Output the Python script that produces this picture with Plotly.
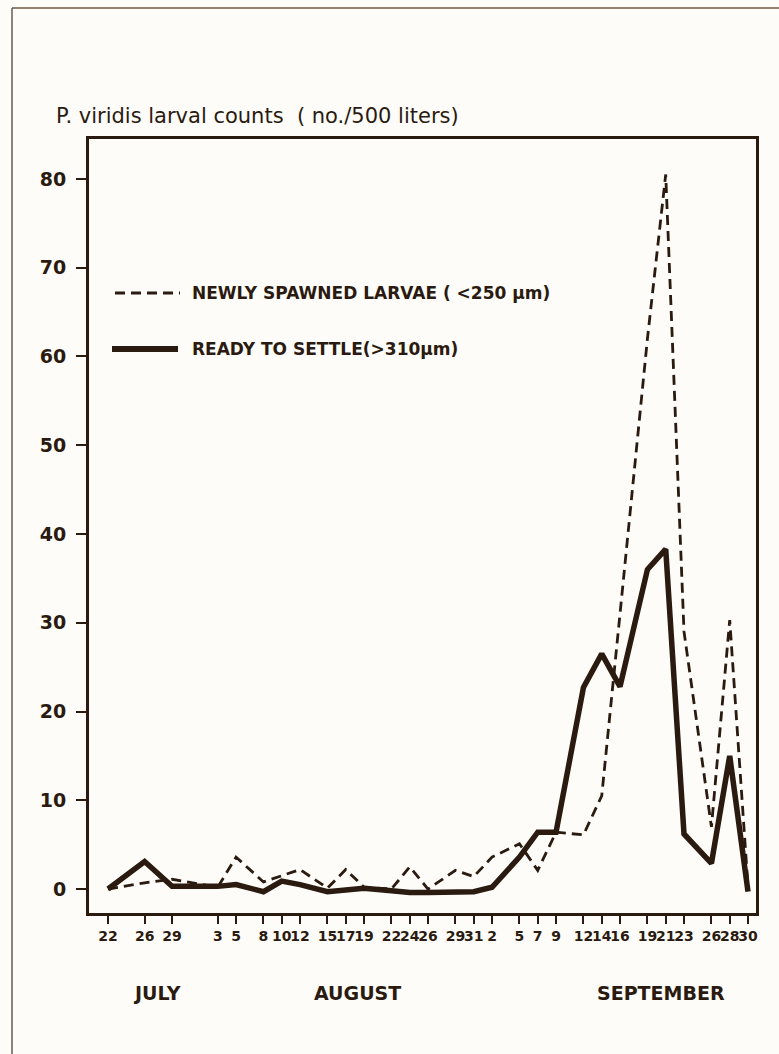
import plotly.graph_objects as go

# ---- data ----
dates = ["1980-07-22", "1980-07-26", "1980-07-29",
         "1980-08-03", "1980-08-05", "1980-08-08", "1980-08-10", "1980-08-12",
         "1980-08-15", "1980-08-17", "1980-08-19", "1980-08-22", "1980-08-24",
         "1980-08-26", "1980-08-29", "1980-08-31",
         "1980-09-02", "1980-09-05", "1980-09-07", "1980-09-09", "1980-09-12",
         "1980-09-14", "1980-09-16", "1980-09-19", "1980-09-21", "1980-09-23",
         "1980-09-26", "1980-09-28", "1980-09-30"]
day_labels = ["22", "26", "29",
              "3", "5", "8", "10", "12", "15", "17", "19", "22", "24", "26", "29", "31",
              "2", "5", "7", "9", "12", "14", "16", "19", "21", "23", "26", "28", "30"]

newly_spawned = [0.0, 0.7, 1.1,
                 0.2, 3.6, 0.8, 1.5, 2.2, 0.1, 2.2, 0.2, 0.0, 2.5,
                 0.0, 2.1, 1.4,
                 3.6, 5.1, 2.1, 6.4, 6.1, 10.5, 31.0, 62.0, 80.5, 29.0,
                 7.0, 30.3, 0.3]
ready_to_settle = [0.0, 3.1, 0.3,
                   0.3, 0.5, -0.3, 0.9, 0.5, -0.3, -0.1, 0.1, -0.2, -0.4,
                   -0.4, -0.4, -0.3,
                   0.2, 3.6, 6.4, 6.4, 22.7, 26.5, 22.8, 36.0, 38.3, 6.2,
                   2.9, 15.0, -0.3]

y_ticks = [0, 10, 20, 30, 40, 50, 60, 70, 80]
months = ["JULY", "AUGUST", "SEPTEMBER"]

legend_names = ["NEWLY SPAWNED LARVAE ( <250 \u00b5m)", "READY TO SETTLE(>310\u00b5m)"]
y_title = "P. viridis larval counts  ( no./500 liters)"

# ---- style ----
INK = "#2a1a10"
BG = "#fdfcf8"
W, H = 779, 1054
L, R, T, B = 89, 756, 139, 913


def px_x(p):
    return (p - L) / (R - L)


def px_y(p):
    return (B - p) / (B - T)


fig = go.Figure()
fig.add_trace(go.Scatter(x=dates, y=newly_spawned, mode="lines",
                         name=legend_names[0],
                         line=dict(color=INK, width=2.8, dash="10px,6px"),
                         showlegend=False))
fig.add_trace(go.Scatter(x=dates, y=ready_to_settle, mode="lines",
                         name=legend_names[1],
                         line=dict(color=INK, width=5.5),
                         showlegend=False))

shapes = [
    # legend samples
    dict(type="line", xref="paper", yref="paper", x0=px_x(115), x1=px_x(180),
         y0=px_y(293), y1=px_y(293), line=dict(color=INK, width=2.8, dash="10px,6px")),
    dict(type="line", xref="paper", yref="paper", x0=px_x(112), x1=px_x(178),
         y0=px_y(349), y1=px_y(349), line=dict(color=INK, width=6)),
    # outer frame
    dict(type="line", xref="paper", yref="paper", x0=px_x(12), x1=px_x(12),
         y0=px_y(8), y1=px_y(1054), line=dict(color="#6b5a4a", width=1.5)),
    dict(type="line", xref="paper", yref="paper", x0=px_x(12), x1=px_x(779),
         y0=px_y(8), y1=px_y(8), line=dict(color="#6b5a4a", width=1.5)),
]

annotations = [
    dict(text=y_title, xref="paper", yref="paper", x=px_x(54), y=px_y(116),
         xanchor="left", yanchor="middle", showarrow=False,
         font=dict(family="DejaVu Sans", size=21, color=INK)),
    dict(text=legend_names[0], xref="paper", yref="paper", x=px_x(190), y=px_y(293),
         xanchor="left", yanchor="middle", showarrow=False,
         font=dict(family="DejaVu Sans", size=17, color=INK, weight="bold")),
    dict(text=legend_names[1], xref="paper", yref="paper", x=px_x(190), y=px_y(349),
         xanchor="left", yanchor="middle", showarrow=False,
         font=dict(family="DejaVu Sans", size=17, color=INK, weight="bold")),
]
for m, cx in zip(months, [157, 357, 661]):
    annotations.append(dict(text=m, xref="paper", yref="paper", x=px_x(cx), y=px_y(993),
                            xanchor="center", yanchor="middle", showarrow=False,
                            font=dict(family="DejaVu Sans", size=19, color=INK, weight="bold")))

fig.update_layout(
    width=W, height=H,
    margin=dict(l=L, r=W - R, t=T, b=H - B, pad=0),
    paper_bgcolor=BG, plot_bgcolor=BG,
    shapes=shapes, annotations=annotations,
    xaxis=dict(type="date", range=["1980-07-19 22:00", "1980-09-30 21:00"],
               tickmode="array", tickvals=dates, ticktext=day_labels, tickangle=0,
               ticks="outside", ticklen=8, tickwidth=2, tickcolor=INK,
               showgrid=False, zeroline=False,
               showline=True, linewidth=3, linecolor=INK, mirror=True,
               tickfont=dict(family="DejaVu Sans", size=14, color=INK, weight="bold")),
    yaxis=dict(range=[-2.7, 84.5], tickmode="array", tickvals=y_ticks,
               ticks="outside", ticklen=10, tickwidth=2, tickcolor=INK,
               ticklabelstandoff=6,
               showgrid=False, zeroline=False,
               showline=True, linewidth=3, linecolor=INK, mirror=True,
               tickfont=dict(family="DejaVu Sans", size=19, color=INK, weight="bold")),
)

fig.write_html("out.html",
               config={"displayModeBar": False},
               post_script="document.body.style.margin='0';document.body.style.overflow='hidden';")
